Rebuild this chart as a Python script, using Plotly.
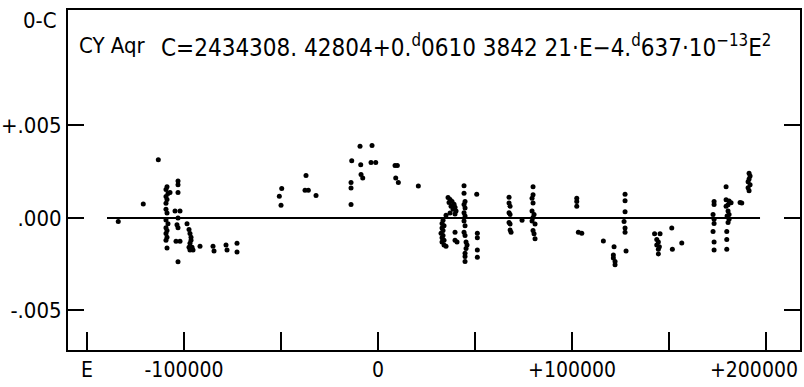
import plotly.graph_objects as go

# Epochs E and O-C residuals (days)
E = [-133900, -121000, -113250,
     -108770, -109290, -108260, -109290, -108770, -109290, -109290, -108770, -109290, -108260,
     -109290, -108770, -109290, -108770, -109290, -108770, -107220,
     -103100, -103100, -103100, -104640, -102070, -103100, -103620, -103100, -104130, -102070, -103100,
     -98460, -97430, -96920, -96400, -96400, -96920, -97430, -95880, -95370, -96920,
     -91760, -85060, -84540, -78360, -77840, -72690, -72690,
     -49640, -50880, -50000, -37120, -37640, -35930, -31960, -13560, -9280, -3090, -8920, -3610, -1190,
     -8760, -7890, -13920, -13920, -13920, 8760, 9950, 9120, 10470, 20780,
     35050, 33510, 32990, 34020, 32990, 33510, 32480, 33510, 32990, 34020, 32990, 34020, 35050,
     36090, 37120, 38150, 36600, 39180, 37630, 39690, 38660, 40210, 37120, 39690,
     39690, 39690, 40720,
     44330, 44330, 44850, 44330, 44850, 44330, 44850, 44330, 44850, 44330, 44850, 45370, 45880, 45370,
     44850, 44850, 44850,
     50880, 51190, 51190, 51190, 51190,
     67530, 67530, 68050, 67530, 68050, 67530, 68050, 68050, 68560, 74230,
     79900, 79900, 79390, 79900, 79390, 80420, 79900, 79390, 80930, 79900, 80420, 80930,
     102430, 102430, 102430, 103260, 105010, 116140, 121660, 121300, 121300, 122170, 122170,
     127330, 127330, 127330, 126810, 127330, 127330, 127840,
     142540, 145370, 143670, 144490, 143670, 145010, 144490, 144490, 151400, 151710, 156560,
     173210, 173210, 172690, 173210, 173210, 172690, 173210, 173210,
     179400, 179400, 180940, 181970, 180420, 179400, 180420, 180940, 179910, 180940, 180420,
     179750, 179750, 179750, 187490, 186610,
     191250, 191770, 191250, 190740, 191770, 190740, 191250]
OC = [-0.00019, 0.00075, 0.00314,
      0.00168, 0.00153, 0.00132, 0.00116, 0.00100, 0.00079, 0.00047, 0.00026, -0.00011, -0.00032,
      -0.00053, -0.00068, -0.00084, -0.00105, -0.00121, -0.00163, 0.00137,
      0.00200, 0.00179, 0.00137, 0.00037, 0.00037, 0.00000, -0.00037, -0.00053, -0.00126, -0.00126, -0.00237,
      -0.00032, -0.00063, -0.00084, -0.00105, -0.00121, -0.00137, -0.00158, -0.00158, -0.00174, -0.00174,
      -0.00153, -0.00153, -0.00179, -0.00147, -0.00174, -0.00137, -0.00184,
      0.00159, 0.00117, 0.00068, 0.00230, 0.00149, 0.00149, 0.00121, 0.00309, 0.00388, 0.00391, 0.00288,
      0.00300, 0.00300,
      0.00235, 0.00216, 0.00191, 0.00162, 0.00072, 0.00283, 0.00283, 0.00216, 0.00191, 0.00172,
      0.00014, -0.00012, -0.00030, -0.00042, -0.00054, -0.00068, -0.00083, -0.00095, -0.00107, -0.00121,
      -0.00130, -0.00147, -0.00153,
      0.00111, 0.00100, 0.00089, 0.00084, 0.00074, 0.00063, 0.00058, 0.00047, 0.00037, 0.00026, 0.00021,
      -0.00077, -0.00121, -0.00130,
      0.00174, 0.00133, 0.00089, 0.00072, 0.00054, 0.00028, 0.00011, -0.00016, -0.00042, -0.00077, -0.00095,
      -0.00130, -0.00147, -0.00165, -0.00191, -0.00209, -0.00235,
      0.00128, -0.00083, -0.00107, -0.00174, -0.00212,
      0.00112, 0.00081, 0.00063, 0.00028, 0.00019, -0.00025, -0.00033, -0.00065, -0.00077, -0.00012,
      0.00168, 0.00125, 0.00107, 0.00081, 0.00037, 0.00019, 0.00002, -0.00016, -0.00033, -0.00068, -0.00086,
      -0.00112,
      0.00107, 0.00089, 0.00063, -0.00077, -0.00083, -0.00125, -0.00156, -0.00200, -0.00217, -0.00235, -0.00253,
      0.00128, 0.00093, 0.00033, -0.00019, -0.00054, -0.00077, -0.00179,
      -0.00086, -0.00086, -0.00117, -0.00130, -0.00147, -0.00156, -0.00170, -0.00195, -0.00054, -0.00170,
      -0.00135,
      0.00089, 0.00072, 0.00019, -0.00007, -0.00030, -0.00074, -0.00130, -0.00174,
      0.00168, 0.00098, 0.00092, 0.00082, 0.00071, 0.00063, 0.00037, 0.00019, 0.00011, -0.00007, -0.00025,
      -0.00074, -0.00117, -0.00170, 0.00081, 0.00084,
      0.00242, 0.00226, 0.00211, 0.00195, 0.00179, 0.00163, 0.00147]

x_tickvals = [-150000, -100000, -50000, 0, 50000, 100000, 150000, 200000]
x_ticktext = ["E", "-100000", "", "0", "", "+100000", "", ""]
last_x_label = "+200000"   # drawn right-aligned at the frame edge, as in the original
y_tickvals = [-0.005, 0.0, 0.005]
y_ticktext = ["-.005", ".000", "+.005"]
zero_line_span = [-139700, 196900]

FONT = "DejaVu Sans Condensed, Liberation Sans Narrow, Roboto, sans-serif"

fig = go.Figure()
fig.add_trace(go.Scatter(x=E, y=OC, mode="markers",
                         marker=dict(color="black", size=5, line=dict(width=0)),
                         hoverinfo="x+y", showlegend=False))
fig.add_shape(type="line", xref="x", yref="y",
              x0=zero_line_span[0], x1=zero_line_span[1], y0=0, y1=0,
              line=dict(color="black", width=2))

fig.update_layout(
    width=804, height=387,
    margin=dict(l=68, r=4, t=10, b=37, autoexpand=False),
    paper_bgcolor="white", plot_bgcolor="white",
    font=dict(family=FONT, size=22, color="black"),
    xaxis=dict(range=[-159800, 217500], tickmode="array", tickvals=x_tickvals, ticktext=x_ticktext,
               ticks="inside", ticklen=18, tickwidth=1.5, tickcolor="black",
               showline=True, linecolor="black", linewidth=2, mirror=True, automargin=False,
               showgrid=False, zeroline=False, tickfont=dict(size=21)),
    yaxis=dict(range=[-0.00714, 0.01124], tickmode="array", tickvals=y_tickvals, ticktext=y_ticktext,
               ticks="inside", ticklen=16, tickwidth=1.5, tickcolor="black",
               showline=True, linecolor="black", linewidth=2, mirror="ticks", automargin=False,
               showgrid=False, zeroline=False, tickfont=dict(size=22)),
    annotations=[
        dict(text="0-C", xref="paper", yref="paper", x=-0.012, y=0.97, xanchor="right", yanchor="middle",
             showarrow=False, font=dict(size=22)),
        dict(text="CY Aqr", xref="paper", yref="paper", x=0.012, y=0.895, xanchor="left", yanchor="middle",
             showarrow=False, font=dict(size=22)),
        dict(text="C=2434308. 42804+0.<sup>d</sup>0610 3842 21·E−4.<sup>d</sup>637·10<sup>−13</sup>E<sup>2</sup>",
             xref="paper", yref="paper", x=0.124, y=0.895, xanchor="left", yanchor="middle",
             showarrow=False, font=dict(size=24)),
        dict(text=last_x_label, xref="paper", yref="paper", x=1.0, y=0, yshift=-20,
             xanchor="right", yanchor="middle", showarrow=False, font=dict(size=21)),
    ],
)
fig.write_html("out.html", config={"displayModeBar": False},
               post_script="document.body.style.margin='0';document.body.style.overflow='hidden';")
